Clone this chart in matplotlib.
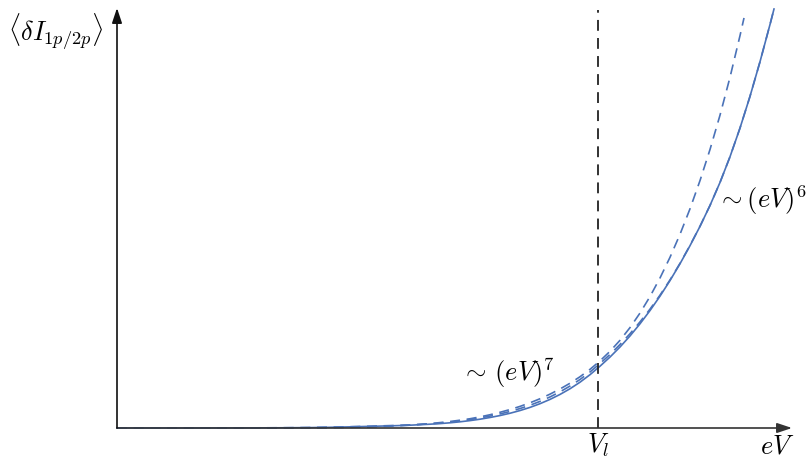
import matplotlib
matplotlib.use("Agg")
import matplotlib.pyplot as plt

plt.rcParams['mathtext.fontset'] = 'cm'
plt.rcParams['font.family'] = ['DejaVu Serif']

# Values (pixel readings, converted below)
grid_x = [117, 200, 240, 280, 310, 330, 340, 350, 360, 370, 380, 390, 400, 410, 420, 430,
          440, 450, 460, 470, 480, 490, 500, 510, 520, 530, 540, 550, 560, 570, 580, 590,
          600, 610, 620, 630, 640, 650, 660, 670, 680, 690, 700, 710, 720, 730, 740, 750,
          760, 770, 774]

solid_px = [428, 428, 427.95, 427.8, 427.6, 427.3, 427.1, 426.85, 426.6, 426.35, 426.1,
            425.85, 425.55, 425.2, 424.7, 424.2, 423.6, 422.8, 421.8, 420.6, 419.2, 417.5,
            415.55, 413.25, 410.55, 407.4, 403.7, 399.4, 394.45, 388.75, 382.2, 374.7,
            366.2, 357.05, 347.0, 335.95, 323.8, 310.55, 296.15, 280.55, 263.75, 245.7,
            226.35, 205.45, 182.45, 156.75, 128.05, 96.35, 61.75, 24.5, 9.0]

d6_px = [428, 428, 427.9, 427.75, 427.5, 427.2, 427.0, 426.7, 426.45, 426.2, 425.9,
         425.6, 425.35, 424.95, 424.35, 423.8, 423.1, 422.15, 421.0, 419.65, 418.0, 416.1,
         413.95, 411.45, 408.55, 405.25, 401.4, 396.95, 391.85, 386.05, 379.5, 372.0,
         363.5, 354.45, 344.5, 333.75, 321.9, 309.15, 295.15, 279.95, 263.35, 245.45,
         226.25, 205.45, 182.45, 156.75, 128.05, 96.35, 61.75, 24.5, 9.0]

d7_x = [117, 250, 300, 330, 350, 370, 380, 390, 400, 410, 420, 430, 440, 450, 460, 470,
        480, 490, 500, 510, 520, 530, 540, 550, 560, 570, 580, 590, 600, 610, 620, 630,
        640, 650, 660, 670, 680, 690, 700, 710, 720, 730, 740, 744]
d7_px = [428, 427.95, 427.85, 427.65, 427.4, 426.9, 426.5, 426.1, 425.6, 425.1, 424.4,
         423.6, 422.6, 421.5, 420.2, 418.75, 416.9, 414.75, 412.3, 409.55, 406.4, 402.8,
         398.75, 394.15, 389.0, 383.25, 376.75, 369.35, 360.9, 351.3, 340.3, 327.6,
         313.05, 296.55, 278.0, 257.3, 234.3, 208.8, 180.6, 149.5, 115.2, 77.3, 35.65, 17.95]

X0, Y0, XS, YS = 117.0, 428.0, 481.0, 100.0
solid_x = [(v - X0) / XS for v in grid_x]
solid_y = [(Y0 - v) / YS for v in solid_px]
d6_xx = [(v - X0) / XS for v in grid_x]
d6_y = [(Y0 - v) / YS for v in d6_px]
d7_xx = [(v - X0) / XS for v in d7_x]
d7_y = [(Y0 - v) / YS for v in d7_px]

V_l = 1.0

W, H = 808, 459
fig = plt.figure(figsize=(W / 100, H / 100), dpi=100)
right_px, top_px = 792, 8
ax = fig.add_axes([117 / W, (H - 428) / H, (right_px - 117) / W, (428 - top_px) / H])
xmax = (right_px - X0) / XS
ymax = (Y0 - top_px) / YS
ax.set_xlim(0, xmax)
ax.set_ylim(0, ymax)
for s in ax.spines.values():
    s.set_visible(False)
ax.set_xticks([])
ax.set_yticks([])

blue = '#4a72b8'
ax.plot(solid_x, solid_y, color=blue, lw=1.2, clip_on=False)
ax.plot(d7_xx, d7_y, color=blue, lw=1.2, ls=(0, (6, 4)), clip_on=False)
ax.plot(d6_xx, d6_y, color=blue, lw=1.2, ls=(0, (6, 4)), clip_on=False)

ax.plot([V_l, V_l], [0, (Y0 - 10) / YS], color='#222222', lw=1.3, ls=(0, (6, 4)), clip_on=False)

ax.annotate('', xy=(xmax, 0), xytext=(0, 0),
            arrowprops=dict(arrowstyle='-|>,head_length=0.9,head_width=0.3', color='#333333',
                            lw=1.2, shrinkA=0, shrinkB=0), annotation_clip=False)
ax.annotate('', xy=(0, ymax), xytext=(0, 0),
            arrowprops=dict(arrowstyle='-|>,head_length=0.9,head_width=0.3', color='#111111',
                            lw=1.2, shrinkA=0, shrinkB=0), annotation_clip=False)

fs = 19
ax.text((8 - X0) / XS, (Y0 - 41) / YS, r'$\langle \delta I_{1p/2p} \rangle$', fontsize=fs,
        ha='left', va='baseline')
ax.text((461 - X0) / XS, (Y0 - 381) / YS, r'$\sim\,(eV)^7$', fontsize=fs, ha='left', va='baseline')
ax.text((717 - X0) / XS, (Y0 - 208) / YS, r'$\sim (eV)^6$', fontsize=fs, ha='left', va='baseline')
ax.text(V_l, (Y0 - 453) / YS, r'$V_l$', fontsize=fs, ha='center', va='baseline')
ax.text((795 - X0) / XS, (Y0 - 453) / YS, r'$eV$', fontsize=fs, ha='right', va='baseline')

fig.savefig('out.png', dpi=100)
